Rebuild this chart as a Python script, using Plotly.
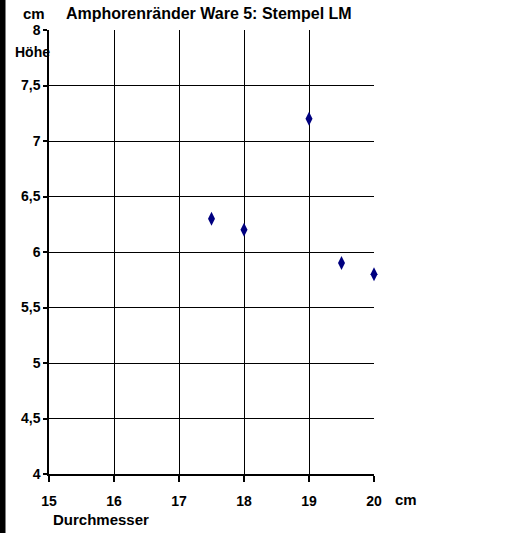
import plotly.graph_objects as go

durchmesser = [17.5, 18, 19, 19.5, 20]
hoehe = [6.3, 6.2, 7.2, 5.9, 5.8]
x_ticks = [15, 16, 17, 18, 19, 20]
y_ticks = [4, 4.5, 5, 5.5, 6, 6.5, 7, 7.5, 8]

W, H = 515, 533
L, R, T, B = 49, 141, 30, 59
pw = W - L - R
ph = H - T - B

FONT = "Arial, Liberation Sans, sans-serif"

fig = go.Figure()
fig.add_trace(go.Scatter(
    x=durchmesser, y=hoehe, mode="markers",
    marker=dict(symbol="diamond-tall", size=10, color="#000080",
                line=dict(width=0)),
    cliponaxis=False, showlegend=False,
))

def px(xp):
    return (xp - L) / pw

def py(yp):
    return 1 - (yp - T) / ph

annotations = [
    dict(text="<b>cm</b>", x=px(21), y=py(13), xanchor="left", yanchor="middle", font=dict(size=15)),
    dict(text="<b>Amphorenränder Ware 5: Stempel LM</b>", x=px(64), y=py(13), xanchor="left", yanchor="middle", font=dict(size=16)),
    dict(text="<b>Höhe</b>", x=px(13), y=py(52), xanchor="left", yanchor="middle", font=dict(size=14)),
    dict(text="<b>Durchmesser</b>", x=px(51), y=py(519), xanchor="left", yanchor="middle", font=dict(size=15)),
    dict(text="<b>cm</b>", x=px(393), y=py(499), xanchor="left", yanchor="middle", font=dict(size=15)),
]
for a in annotations:
    a.update(xref="paper", yref="paper", showarrow=False)
    a["font"]["family"] = FONT
    a["font"]["color"] = "black"

fig.update_layout(
    width=W, height=H,
    margin=dict(l=L, r=R, t=T, b=B, pad=0),
    paper_bgcolor="white", plot_bgcolor="white",
    separators=",.",
    font=dict(family=FONT, color="black"),
    annotations=annotations,
    shapes=[dict(type="rect", xref="paper", yref="paper",
                 x0=px(0), x1=px(5.5), y0=py(H), y1=py(0),
                 fillcolor="black", line=dict(width=0), layer="above")],
)
fig.update_xaxes(
    range=[15, 20], tickvals=x_ticks, ticktext=[f"<b>{v}</b>" for v in x_ticks],
    showgrid=True, gridcolor="black", gridwidth=1,
    showline=True, linecolor="black", linewidth=1.5,
    ticks="outside", ticklen=6, tickcolor="black", tickwidth=1.5,
    ticklabelstandoff=7,
    tickfont=dict(size=14, family=FONT, color="black"), zeroline=False,
)
fig.update_yaxes(
    range=[4, 8], tickvals=y_ticks,
    ticktext=[("<b>" + (f"{v:g}".replace(".", ",")) + "</b>") for v in y_ticks],
    showgrid=True, gridcolor="black", gridwidth=1,
    showline=True, linecolor="black", linewidth=1.5,
    ticks="outside", ticklen=4, tickcolor="black", tickwidth=1.5,
    tickfont=dict(size=14, family=FONT, color="black"), zeroline=False,
)

fig.write_html("out.html", config={"displayModeBar": False})
with open("out.html", "r", encoding="utf-8") as f:
    html = f.read()
html = html.replace("<head>", "<head><style>html,body{margin:0;padding:0;overflow:hidden}</style>", 1)
with open("out.html", "w", encoding="utf-8") as f:
    f.write(html)
